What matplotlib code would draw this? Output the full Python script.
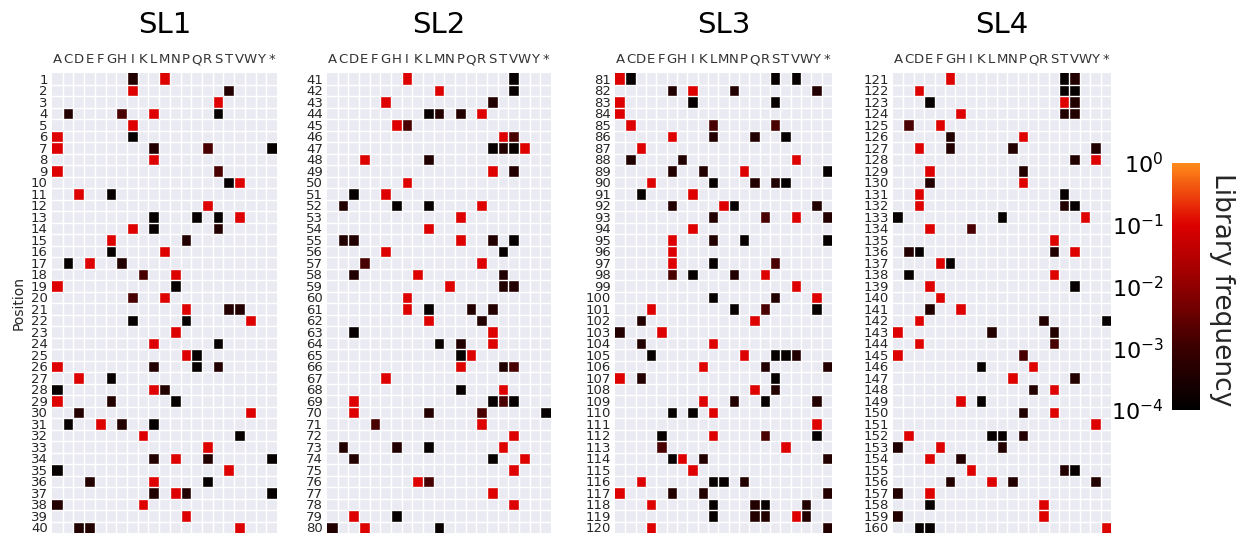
import numpy as np
import matplotlib
matplotlib.use("Agg")
import matplotlib.pyplot as plt
from matplotlib.colors import LinearSegmentedColormap, LogNorm
import numpy.ma as ma

AA = list("ACDEFGHIKLMNPQRSTVWY*")
TITLES = ["SL1", "SL2", "SL3", "SL4"]
START = [1, 41, 81, 121]

# shade codes -> library frequency
FREQ = {"r": 0.1, "d": 1.5e-3, "m": 4e-4, "k": 1.3e-4}

SL1 = ["Im Mr", "Ir Tm", "Sr", "Cm Hd Lr Sk", "Ir", "Ar Ik", "Ar Lm Rd *k", "Lr",
       "Ar Sd", "Tk Vr", "Dr Gk", "Rr", "Lk Qk Sk Vr", "Ir Lk Sm", "Gr Pm", "Gk Mr",
       "Ck Er Hm", "Kd Nr", "Ar Nk", "Id Mr", "Pr Tm Vm", "Ik Pk Wr", "Nr", "Lr Sk",
       "Pr Qk", "Ar Lm Qk Sm", "Dr Gk", "Ak Lr Mm", "Ar Gm Nk", "Dm Wr", "Ck Fr Hm Lk",
       "Kr Vk", "Rr", "Lm Nr Rm *k", "Ak Tr", "Em Lr Rk", "Lm Nr Pm *k", "Am Kr", "Pr",
       "Dm Em Vr"]
SL2 = ["Ir Vk", "Mr Vk", "Gr Sm", "Lk Mm Pm Rr", "Hr Id", "Tr Vd", "Sk Tm Vk Wr",
       "Er Lm", "Sr Vm", "Ir", "Dk Gr", "Cm Hk Lk Rr", "Pr", "Lr", "Cm Dm Pr Sm Vk",
       "Gr Tk", "Ed Rr", "Dm Kr Tm", "Nr Tm Vm", "Ir", "Ir Lk Qm Sm", "Lr Rm", "Dk Sr",
       "Mk Pm Sr", "Pk Qr", "Pr Tm Vd", "Gr", "Pk Tr", "Dr Sk Td Vk", "Dr Lm Rd *k",
       "Fd Rr", "Vr", "Cm Hm Lk Tr", "Dm Sk Wr", "Vr", "Kr Ld", "Sr", "Vr", "Dr Hk",
       "Am Er Mk"]
SL3 = ["Ar Ck Sk Vk", "Gm Ir Nm Ym", "Ar Ik Sk", "Ar", "Cr Ld Sd", "Gr Lm Qm Tk", "Dr",
       "Cm Hm Vr", "Gm Km Pr *k", "Er Lk Qm Sm Tk", "Dk Ir", "Gm Mr Nk Ym",
       "Lm Rd Vr *m", "Ir", "Gr Lm Pk *k", "Gr", "Gr Lk Sd", "Gd Ik Nm Rr", "Vr",
       "Lk Sm Yr", "Er Nk Rd Yk", "Dm Qr", "Am Fr", "Dm Lr", "Ek Pr Sk Tk Vm",
       "Kr Rm *m", "Ar Dm Sk", "Qr Sm", "Kr Nm Rk Ym", "Gk Ik Lr", "Yr", "Fk Lr Rd Yk",
       "Fd Tr", "Gk Hr Km *m", "Ir", "Dr Lk Mk Pm", "Ar Gm Km *m", "Er Lk Qm Rk Wm",
       "Lk Qm Rm Vr Wm", "Er *m"]
SL4 = ["Gr Tk Vm", "Dr Tk Vk", "Ek Tr Vm", "Hr Tm Vm", "Cd Fr", "Gm Pr", "Dr Gm Nm Ym",
       "Vm Yr", "Er Pm", "Em Pr", "Dr Tk", "Dr Tm Vk", "Ak Mk Wr", "Er Id", "Sr",
       "Cm Dk Sm Vr", "Fr Gk", "Ck Sr", "Er Vk", "Fr", "Em Hr", "Dr Rm *k", "Ar Lm Sm",
       "Dr Sd", "Ar Pd", "Kk Qr", "Nr Vm", "Qm Sr", "Hr Kk", "Pm Sr", "Yr",
       "Cr Lk Mk Pm", "Am Fr Mm", "Er Hm", "Ir Tm Vk", "Gm Lr Nm Ym", "Am Er", "Ek Rr",
       "Am Rr", "Dk Ek *r"]
PANELS = [SL1, SL2, SL3, SL4]


def to_matrix(rows):
    m = np.full((len(rows), len(AA)), np.nan)
    for i, row in enumerate(rows):
        for tok in row.split():
            m[i, AA.index(tok[:-1])] = FREQ[tok[-1]]
    return ma.masked_invalid(m)


cmap = LinearSegmentedColormap.from_list(
    "lib", [(0, "#000000"), (0.25, "#3a0000"), (0.5, "#900000"),
            (0.75, "#dd0000"), (1.0, "#ff8a1a")])
norm = LogNorm(vmin=1e-4, vmax=1)

W, H = 1239, 534
fig = plt.figure(figsize=(W / 100, H / 100), dpi=100)

# pixel boxes (left, right) for each panel
xs = [(52, 277), (327, 551), (615, 832), (893, 1111)]
top, bot = 73, 533

for k, (rows, (x0, x1)) in enumerate(zip(PANELS, xs)):
    ax = fig.add_axes([x0 / W, 1 - bot / H, (x1 - x0) / W, (bot - top) / H])
    ax.set_facecolor("#eaeaf2")
    data = to_matrix(rows)
    mesh = ax.pcolormesh(np.arange(len(AA) + 1), np.arange(len(rows) + 1), data,
                         cmap=cmap, norm=norm)
    ax.set_xlim(0, len(AA))
    ax.set_ylim(len(rows), 0)
    for i in range(1, len(AA)):
        ax.axvline(i, color="white", lw=1)
    for j in range(1, len(rows)):
        ax.axhline(j, color="white", lw=1)
    ax.set_xticks(np.arange(len(AA)) + 0.5)
    ax.set_xticklabels(AA, fontsize=9.5, color="#333333")
    ax.xaxis.tick_top()
    ax.set_yticks(np.arange(len(rows)) + 0.5)
    ax.set_yticklabels([str(START[k] + i) for i in range(len(rows))],
                       fontsize=9.5, color="#262626")
    ax.tick_params(length=0, pad=3)
    ax.tick_params(axis="x", pad=5)
    for s in ax.spines.values():
        s.set_visible(False)
    ax.set_title(TITLES[k], fontsize=21, pad=29)
    if k == 0:
        ax.set_ylabel("Position", fontsize=10, color="#262626", labelpad=4)

cax = fig.add_axes([1172 / W, 1 - 410 / H, 28 / W, (410 - 163) / H])
cb = fig.colorbar(mesh, cax=cax)
cb.outline.set_visible(False)
cb.set_ticks([1e-4, 1e-3, 1e-2, 1e-1, 1])
cax.yaxis.set_ticks_position("left")
cax.tick_params(length=0, labelsize=16, pad=6)
cax.minorticks_off()
fig.text(1222 / W, 1 - 290 / H, "Library frequency", rotation=-90, fontsize=19,
         ha="center", va="center", color="#262626")

fig.savefig("out.png", dpi=100)
